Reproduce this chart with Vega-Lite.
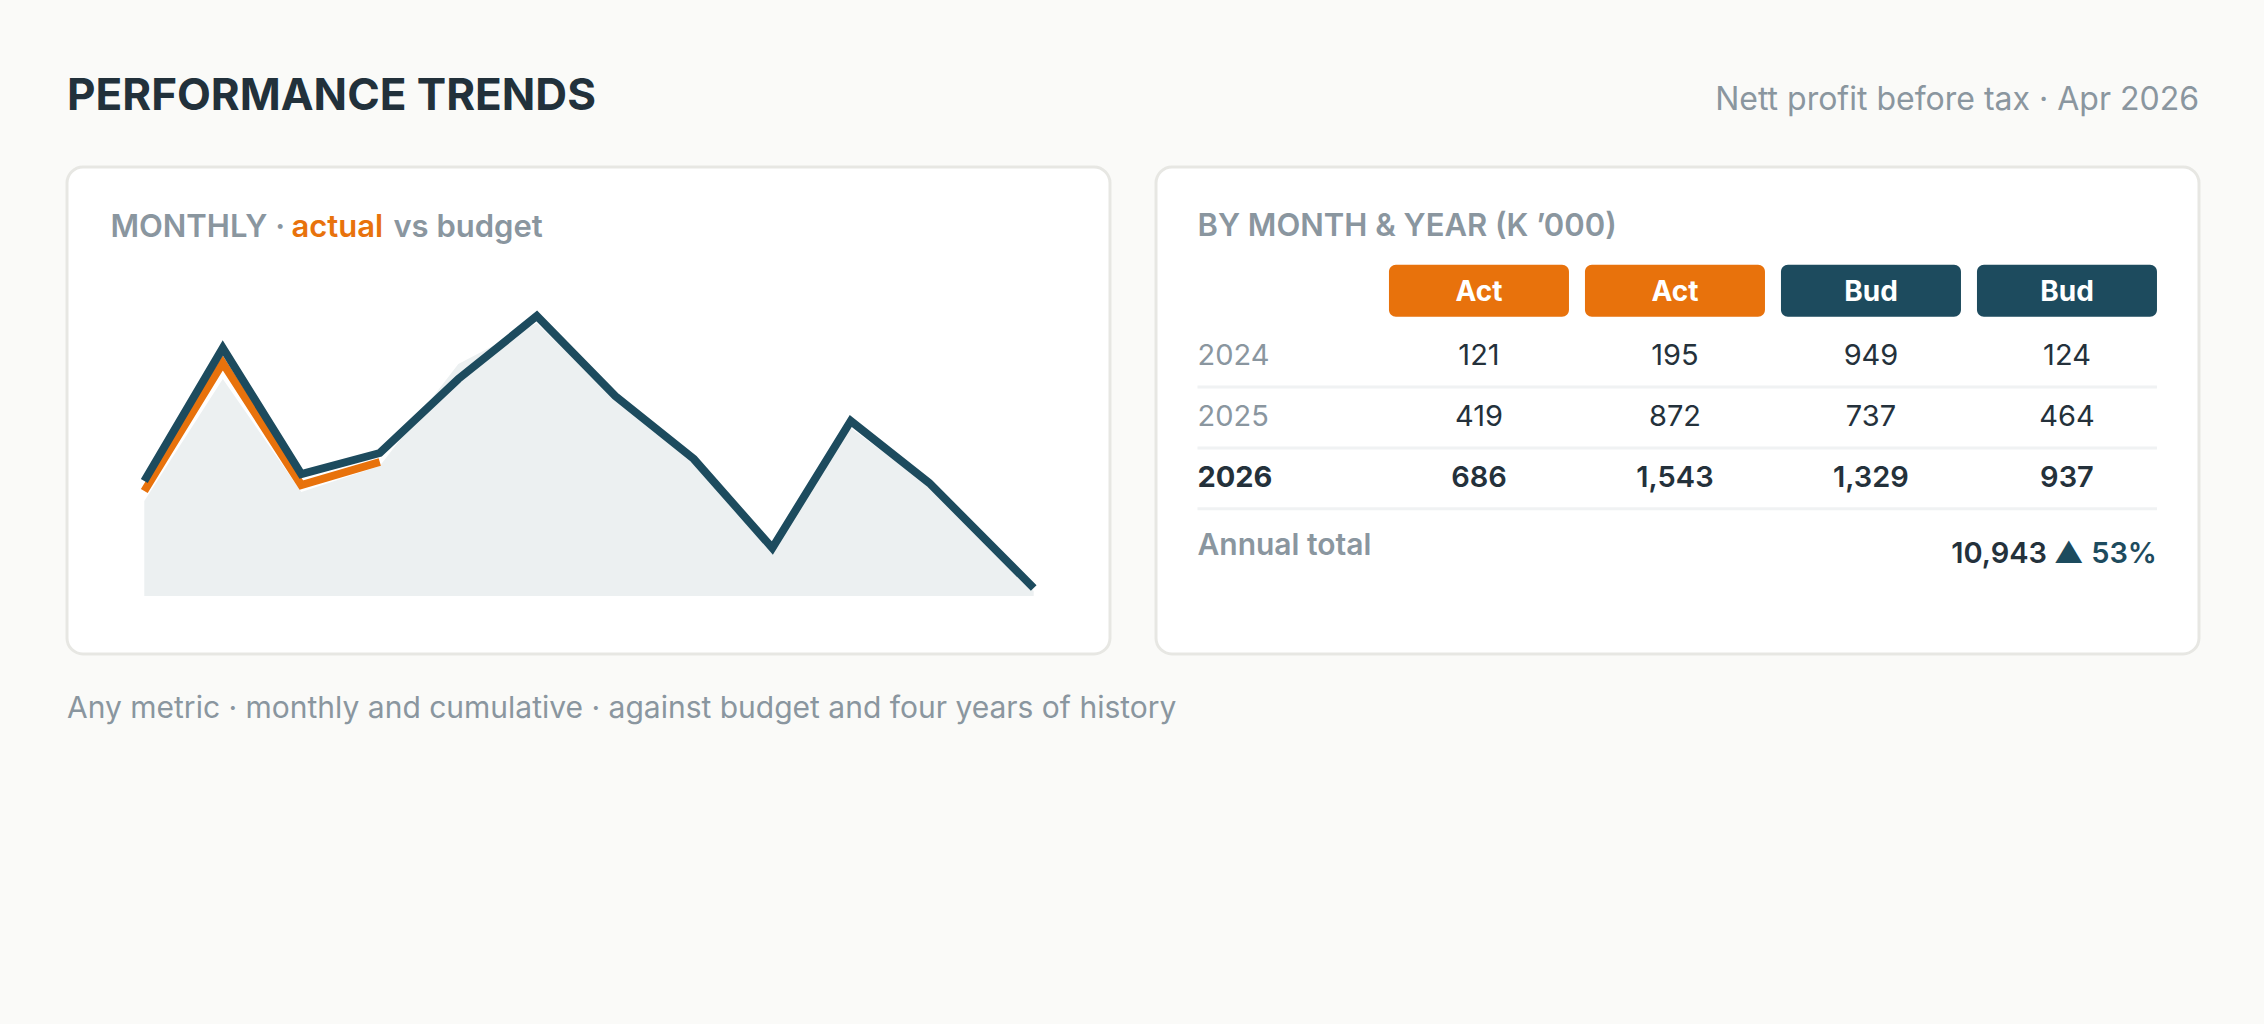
{
  "$schema": "https://vega.github.io/schema/vega-lite/v6.json",
  "background": "#fafaf8",
  "padding": {"left": 65, "top": 73, "right": 65, "bottom": 345},
  "bounds": "flush",
  "spacing": 46,
  "title": {
    "text": "Any metric · monthly and cumulative · against budget and four years of history",
    "orient": "bottom",
    "anchor": "start",
    "frame": "group",
    "baseline": "alphabetic",
    "offset": 62,
    "fontSize": 30,
    "fontWeight": 400,
    "color": "#8a969f"
  },
  "datasets": {
    "trend": [
      {"period": 1, "budget": 115, "actual": 105, "history": 95},
      {"period": 2, "budget": 248, "actual": 233, "history": 217},
      {"period": 3, "budget": 122, "actual": 111, "history": 104},
      {"period": 4, "budget": 143, "actual": 134, "history": 130},
      {"period": 5, "budget": 217, "actual": null, "history": 232},
      {"period": 6, "budget": 280, "actual": null, "history": 273},
      {"period": 7, "budget": 200, "actual": null, "history": 197},
      {"period": 8, "budget": 137, "actual": null, "history": 132},
      {"period": 9, "budget": 48, "actual": null, "history": 42},
      {"period": 10, "budget": 175, "actual": null, "history": 168},
      {"period": 11, "budget": 113, "actual": null, "history": 110},
      {"period": 12.33, "budget": 8, "actual": null, "history": 5}
    ],
    "cells": [
      {"year": "2024", "col": "a1", "value": 121},
      {"year": "2024", "col": "a2", "value": 195},
      {"year": "2024", "col": "b1", "value": 949},
      {"year": "2024", "col": "b2", "value": 124},
      {"year": "2025", "col": "a1", "value": 419},
      {"year": "2025", "col": "a2", "value": 872},
      {"year": "2025", "col": "b1", "value": 737},
      {"year": "2025", "col": "b2", "value": 464},
      {"year": "2026", "col": "a1", "value": 686},
      {"year": "2026", "col": "a2", "value": 1543},
      {"year": "2026", "col": "b1", "value": 1329},
      {"year": "2026", "col": "b2", "value": 937}
    ],
    "headers": [
      {"col": "a1", "label": "Act", "kind": "Actual"},
      {"col": "a2", "label": "Act", "kind": "Actual"},
      {"col": "b1", "label": "Bud", "kind": "Budget"},
      {"col": "b2", "label": "Bud", "kind": "Budget"}
    ],
    "total": [
      {"label": "Annual total", "total": 10943, "change": "▲ 53%"}
    ]
  },
  "hconcat": [
    {
      "width": 1043,
      "height": 487,
      "title": {
        "text": "PERFORMANCE TRENDS",
        "anchor": "start",
        "frame": "group",
        "baseline": "alphabetic",
        "offset": 13,
        "fontSize": 44,
        "fontWeight": 700,
        "color": "#22313b"
      },
      "layer": [
        {
          "data": {"name": "trend"},
          "mark": {"type": "area", "color": "#ecf0f1"},
          "encoding": {
            "x": {"field": "period", "type": "quantitative", "scale": {"domain": [0.0153, 13.302], "nice": false, "zero": false}, "axis": null},
            "y": {"field": "history", "type": "quantitative", "scale": {"domain": [-58, 429], "nice": false, "zero": false}, "axis": null},
            "y2": {"datum": 0}
          }
        },
        {
          "data": {"name": "trend"},
          "mark": {"type": "line", "color": "#e8720c", "strokeWidth": 8, "strokeJoin": "miter", "strokeCap": "butt"},
          "encoding": {
            "x": {"field": "period", "type": "quantitative", "scale": {"domain": [0.0153, 13.302], "nice": false, "zero": false}, "axis": null},
            "y": {"field": "actual", "type": "quantitative", "scale": {"domain": [-58, 429], "nice": false, "zero": false}, "axis": null}
          }
        },
        {
          "data": {"name": "trend"},
          "mark": {"type": "line", "color": "#1d4b5e", "strokeWidth": 8, "strokeJoin": "miter", "strokeCap": "butt"},
          "encoding": {
            "x": {"field": "period", "type": "quantitative", "scale": {"domain": [0.0153, 13.302], "nice": false, "zero": false}, "axis": null},
            "y": {"field": "budget", "type": "quantitative", "scale": {"domain": [-58, 429], "nice": false, "zero": false}, "axis": null}
          }
        },
        {
          "data": {"values": [{"word": "MONTHLY ·"}]},
          "mark": {"type": "text", "align": "left", "baseline": "alphabetic", "fontSize": 31, "fontWeight": 600, "color": "#8a969f"},
          "encoding": {
            "x": {"datum": 0.568, "type": "quantitative", "scale": {"domain": [0.0153, 13.302], "nice": false, "zero": false}, "axis": null},
            "y": {"datum": 359, "type": "quantitative", "scale": {"domain": [-58, 429], "nice": false, "zero": false}, "axis": null},
            "text": {"field": "word"}
          }
        },
        {
          "data": {"values": [{"word": "actual"}]},
          "mark": {"type": "text", "align": "left", "baseline": "alphabetic", "fontSize": 31, "fontWeight": 600, "color": "#e8720c", "dx": 181},
          "encoding": {
            "x": {"datum": 0.568, "type": "quantitative", "scale": {"domain": [0.0153, 13.302], "nice": false, "zero": false}, "axis": null},
            "y": {"datum": 359, "type": "quantitative", "scale": {"domain": [-58, 429], "nice": false, "zero": false}, "axis": null},
            "text": {"field": "word"}
          }
        },
        {
          "data": {"values": [{"word": "vs budget"}]},
          "mark": {"type": "text", "align": "left", "baseline": "alphabetic", "fontSize": 31, "fontWeight": 600, "color": "#8a969f", "dx": 283},
          "encoding": {
            "x": {"datum": 0.568, "type": "quantitative", "scale": {"domain": [0.0153, 13.302], "nice": false, "zero": false}, "axis": null},
            "y": {"datum": 359, "type": "quantitative", "scale": {"domain": [-58, 429], "nice": false, "zero": false}, "axis": null},
            "text": {"field": "word"}
          }
        }
      ]
    },
    {
      "width": 1043,
      "height": 487,
      "title": {
        "text": "Nett profit before tax · Apr 2026",
        "anchor": "end",
        "frame": "group",
        "baseline": "alphabetic",
        "offset": 25,
        "fontSize": 32,
        "fontWeight": 400,
        "color": "#8a969f"
      },
      "layer": [
        {
          "data": {"name": "headers"},
          "mark": {"type": "rect", "cornerRadius": 7, "height": {"band": 0.858}, "yOffset": -3},
          "encoding": {
            "x": {"field": "col", "type": "nominal", "scale": {"type": "band", "domain": ["label", "a1", "a2", "b1", "b2"], "paddingInner": 0.0816, "paddingOuter": 0.2015, "align": 0.468}, "axis": null},
            "y": {"datum": "header", "type": "nominal", "scale": {"type": "band", "domain": ["title", "header", "2024", "2025", "2026", "total"], "paddingInner": 0, "paddingOuter": 1.0415, "align": 0.291}, "axis": null},
            "color": {"field": "kind", "type": "nominal", "scale": {"domain": ["Actual", "Budget"], "range": ["#e8720c", "#1d4b5e"]}, "legend": null}
          }
        },
        {
          "data": {"name": "headers"},
          "mark": {"type": "text", "align": "center", "baseline": "alphabetic", "fontSize": 28, "fontWeight": 700, "color": "#ffffff", "dy": 7},
          "encoding": {
            "x": {"field": "col", "type": "nominal", "scale": {"type": "band", "domain": ["label", "a1", "a2", "b1", "b2"], "paddingInner": 0.0816, "paddingOuter": 0.2015, "align": 0.468}, "axis": null},
            "y": {"datum": "header", "type": "nominal", "scale": {"type": "band", "domain": ["title", "header", "2024", "2025", "2026", "total"], "paddingInner": 0, "paddingOuter": 1.0415, "align": 0.291}, "axis": null},
            "text": {"field": "label"}
          }
        },
        {
          "data": {"values": [{"row": "2024"}, {"row": "2025"}, {"row": "2026"}]},
          "mark": {"type": "rule", "color": "#f0f2f3", "strokeWidth": 3, "yOffset": 2, "xOffset": 4.5},
          "encoding": {
            "x": {"datum": "label", "type": "nominal", "bandPosition": 0, "scale": {"type": "band", "domain": ["label", "a1", "a2", "b1", "b2"], "paddingInner": 0.0816, "paddingOuter": 0.2015, "align": 0.468}, "axis": null},
            "x2": {"datum": "b2", "bandPosition": 1},
            "y": {"field": "row", "type": "nominal", "bandPosition": 1, "scale": {"type": "band", "domain": ["title", "header", "2024", "2025", "2026", "total"], "paddingInner": 0, "paddingOuter": 1.0415, "align": 0.291}, "axis": null}
          }
        },
        {
          "data": {"values": [{"title": "BY MONTH & YEAR (K ’000)"}]},
          "mark": {"type": "text", "align": "left", "baseline": "alphabetic", "fontSize": 31, "fontWeight": 600, "color": "#8a969f", "dy": 3, "dx": 4.5},
          "encoding": {
            "x": {"datum": "label", "type": "nominal", "bandPosition": 0, "scale": {"type": "band", "domain": ["label", "a1", "a2", "b1", "b2"], "paddingInner": 0.0816, "paddingOuter": 0.2015, "align": 0.468}, "axis": null},
            "y": {"datum": "title", "type": "nominal", "scale": {"type": "band", "domain": ["title", "header", "2024", "2025", "2026", "total"], "paddingInner": 0, "paddingOuter": 1.0415, "align": 0.291}, "axis": null},
            "text": {"field": "title"}
          }
        },
        {
          "data": {"name": "cells"},
          "transform": [{"filter": "datum.year != '2026'"}, {"aggregate": [{"op": "count", "as": "n"}], "groupby": ["year"]}],
          "mark": {"type": "text", "align": "left", "baseline": "alphabetic", "fontSize": 29, "fontWeight": 400, "color": "#8a969f", "dy": 10.5, "dx": 4.5},
          "encoding": {
            "x": {"datum": "label", "type": "nominal", "bandPosition": 0, "scale": {"type": "band", "domain": ["label", "a1", "a2", "b1", "b2"], "paddingInner": 0.0816, "paddingOuter": 0.2015, "align": 0.468}, "axis": null},
            "y": {"field": "year", "type": "nominal", "scale": {"type": "band", "domain": ["title", "header", "2024", "2025", "2026", "total"], "paddingInner": 0, "paddingOuter": 1.0415, "align": 0.291}, "axis": null},
            "text": {"field": "year"}
          }
        },
        {
          "data": {"name": "cells"},
          "transform": [{"filter": "datum.year == '2026'"}, {"aggregate": [{"op": "count", "as": "n"}], "groupby": ["year"]}],
          "mark": {"type": "text", "align": "left", "baseline": "alphabetic", "fontSize": 29, "fontWeight": 700, "color": "#24313b", "dy": 10.5, "dx": 4.5},
          "encoding": {
            "x": {"datum": "label", "type": "nominal", "bandPosition": 0, "scale": {"type": "band", "domain": ["label", "a1", "a2", "b1", "b2"], "paddingInner": 0.0816, "paddingOuter": 0.2015, "align": 0.468}, "axis": null},
            "y": {"field": "year", "type": "nominal", "scale": {"type": "band", "domain": ["title", "header", "2024", "2025", "2026", "total"], "paddingInner": 0, "paddingOuter": 1.0415, "align": 0.291}, "axis": null},
            "text": {"field": "year"}
          }
        },
        {
          "data": {"name": "cells"},
          "transform": [{"filter": "datum.year != '2026'"}],
          "mark": {"type": "text", "align": "center", "baseline": "alphabetic", "fontSize": 29, "fontWeight": 400, "color": "#24313b", "dy": 10.5},
          "encoding": {
            "x": {"field": "col", "type": "nominal", "scale": {"type": "band", "domain": ["label", "a1", "a2", "b1", "b2"], "paddingInner": 0.0816, "paddingOuter": 0.2015, "align": 0.468}, "axis": null},
            "y": {"field": "year", "type": "nominal", "scale": {"type": "band", "domain": ["title", "header", "2024", "2025", "2026", "total"], "paddingInner": 0, "paddingOuter": 1.0415, "align": 0.291}, "axis": null},
            "text": {"field": "value", "format": ","}
          }
        },
        {
          "data": {"name": "cells"},
          "transform": [{"filter": "datum.year == '2026'"}],
          "mark": {"type": "text", "align": "center", "baseline": "alphabetic", "fontSize": 29, "fontWeight": 600, "color": "#24313b", "dy": 10.5},
          "encoding": {
            "x": {"field": "col", "type": "nominal", "scale": {"type": "band", "domain": ["label", "a1", "a2", "b1", "b2"], "paddingInner": 0.0816, "paddingOuter": 0.2015, "align": 0.468}, "axis": null},
            "y": {"field": "year", "type": "nominal", "scale": {"type": "band", "domain": ["title", "header", "2024", "2025", "2026", "total"], "paddingInner": 0, "paddingOuter": 1.0415, "align": 0.291}, "axis": null},
            "text": {"field": "value", "format": ","}
          }
        },
        {
          "data": {"name": "total"},
          "mark": {"type": "text", "align": "left", "baseline": "alphabetic", "fontSize": 30, "fontWeight": 600, "color": "#8a969f", "dy": 18, "dx": 4.5},
          "encoding": {
            "x": {"datum": "label", "type": "nominal", "bandPosition": 0, "scale": {"type": "band", "domain": ["label", "a1", "a2", "b1", "b2"], "paddingInner": 0.0816, "paddingOuter": 0.2015, "align": 0.468}, "axis": null},
            "y": {"datum": "total", "type": "nominal", "scale": {"type": "band", "domain": ["title", "header", "2024", "2025", "2026", "total"], "paddingInner": 0, "paddingOuter": 1.0415, "align": 0.291}, "axis": null},
            "text": {"field": "label"}
          }
        },
        {
          "data": {"name": "total"},
          "mark": {"type": "text", "align": "right", "baseline": "alphabetic", "fontSize": 29, "fontWeight": 600, "color": "#24313b", "dy": 26, "dx": -110},
          "encoding": {
            "x": {"datum": "b2", "type": "nominal", "bandPosition": 1, "scale": {"type": "band", "domain": ["label", "a1", "a2", "b1", "b2"], "paddingInner": 0.0816, "paddingOuter": 0.2015, "align": 0.468}, "axis": null},
            "y": {"datum": "total", "type": "nominal", "scale": {"type": "band", "domain": ["title", "header", "2024", "2025", "2026", "total"], "paddingInner": 0, "paddingOuter": 1.0415, "align": 0.291}, "axis": null},
            "text": {"field": "total", "format": ","}
          }
        },
        {
          "data": {"name": "total"},
          "mark": {"type": "text", "align": "right", "baseline": "alphabetic", "fontSize": 29, "fontWeight": 600, "color": "#1d4b5e", "dy": 26},
          "encoding": {
            "x": {"datum": "b2", "type": "nominal", "bandPosition": 1, "scale": {"type": "band", "domain": ["label", "a1", "a2", "b1", "b2"], "paddingInner": 0.0816, "paddingOuter": 0.2015, "align": 0.468}, "axis": null},
            "y": {"datum": "total", "type": "nominal", "scale": {"type": "band", "domain": ["title", "header", "2024", "2025", "2026", "total"], "paddingInner": 0, "paddingOuter": 1.0415, "align": 0.291}, "axis": null},
            "text": {"field": "change"}
          }
        }
      ]
    }
  ],
  "config": {
    "font": "Inter",
    "view": {"fill": "#ffffff", "stroke": "#e7e7e3", "strokeWidth": 3, "cornerRadius": 16}
  }
}
